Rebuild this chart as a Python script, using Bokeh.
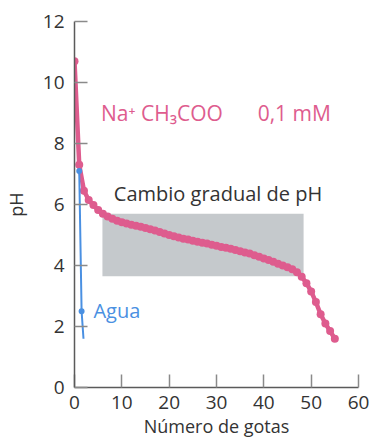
from bokeh.plotting import figure
from bokeh.models import Range1d, Label, BoxAnnotation, FixedTicker
from bokeh.embed import file_html
from bokeh.resources import INLINE

# ---- data ----
drops = list(range(56))
ph_acetate = [10.7, 7.3, 6.45, 6.15, 5.98, 5.82, 5.7, 5.61, 5.53, 5.47,
              5.42, 5.38, 5.34, 5.30, 5.27, 5.23, 5.19, 5.15, 5.10, 5.05,
              5.0, 4.96, 4.92, 4.88, 4.85, 4.81, 4.78, 4.75, 4.72, 4.68,
              4.65, 4.61, 4.58, 4.55, 4.51, 4.47, 4.43, 4.39, 4.34, 4.29,
              4.23, 4.18, 4.12, 4.06, 4.0, 3.94, 3.88, 3.78, 3.63, 3.42,
              3.15, 2.8, 2.4, 2.1, 1.85, 1.6]
agua_drops = [1.0, 1.5, 1.9]
agua_ph = [7.1, 2.5, 1.6]
buffer_drops = [5.9, 48.4]
buffer_ph = [3.65, 5.7]
x_ticks = [0, 10, 20, 30, 40, 50, 60]
y_ticks = [0, 2, 4, 6, 8, 10, 12]

PINK = "#de5c8e"
BLUE = "#4a90e2"
DARK = "#333333"
FONT = "Open Sans"

p = figure(width=370, height=444, output_backend="svg", toolbar_location=None,
           x_range=Range1d(0, 60), y_range=Range1d(0, 12),
           min_border_left=74, min_border_right=12, min_border_top=21,
           min_border_bottom=57)
p.outline_line_color = None
p.grid.grid_line_color = None
p.background_fill_color = "white"

for ax in (p.xaxis[0], p.yaxis[0]):
    ax.major_tick_in = 13
    ax.major_tick_out = 0
    ax.minor_tick_line_color = None
    ax.major_tick_line_color = "#8a8a8a"
    ax.major_tick_line_width = 1.5
    ax.axis_line_color = "#5a5a5a"
    ax.axis_line_width = 1.5
    ax.major_label_text_font = FONT
    ax.major_label_text_font_size = "19px"
    ax.major_label_text_color = DARK
    ax.axis_label_text_font = FONT
    ax.axis_label_text_font_size = "18px"
    ax.axis_label_text_font_style = "normal"
    ax.axis_label_text_color = DARK
p.xaxis.ticker = FixedTicker(ticks=x_ticks)
p.yaxis.ticker = FixedTicker(ticks=y_ticks)
p.xaxis.major_label_standoff = 8
p.yaxis.major_label_standoff = 10
p.xaxis.axis_label = "Número de gotas"
p.yaxis.axis_label = "pH"
p.xaxis.axis_label_standoff = 2
p.yaxis.axis_label_standoff = 12

box = BoxAnnotation(left=buffer_drops[0], right=buffer_drops[1],
                    bottom=buffer_ph[0], top=buffer_ph[1],
                    fill_color="#c5c9cc", fill_alpha=1.0, line_color=None,
                    level="underlay")
p.add_layout(box)

p.line(drops, ph_acetate, line_color=PINK, line_width=4.5)
p.scatter(drops, ph_acetate, size=8, fill_color=PINK, line_color=None)

p.line(agua_drops, agua_ph, line_color=BLUE, line_width=2)
p.scatter(agua_drops[:2], agua_ph[:2], size=6, fill_color=BLUE, line_color=None)

def lab(x, y, text, color, size="20px"):
    p.add_layout(Label(x=x, y=y, text=text, text_color=color,
                       text_font=FONT, text_font_size=size,
                       text_align="left", text_baseline="middle"))

lab(5.6, 9.0, "Na⁺ CH₃COO", PINK, "21px")
lab(38.7, 9.0, "0,1 mM", PINK, "21px")
lab(8.3, 6.36, "Cambio gradual de pH", DARK)
lab(4.0, 2.52, "Agua", BLUE)

open("out.html", "w").write(file_html(p, INLINE))
